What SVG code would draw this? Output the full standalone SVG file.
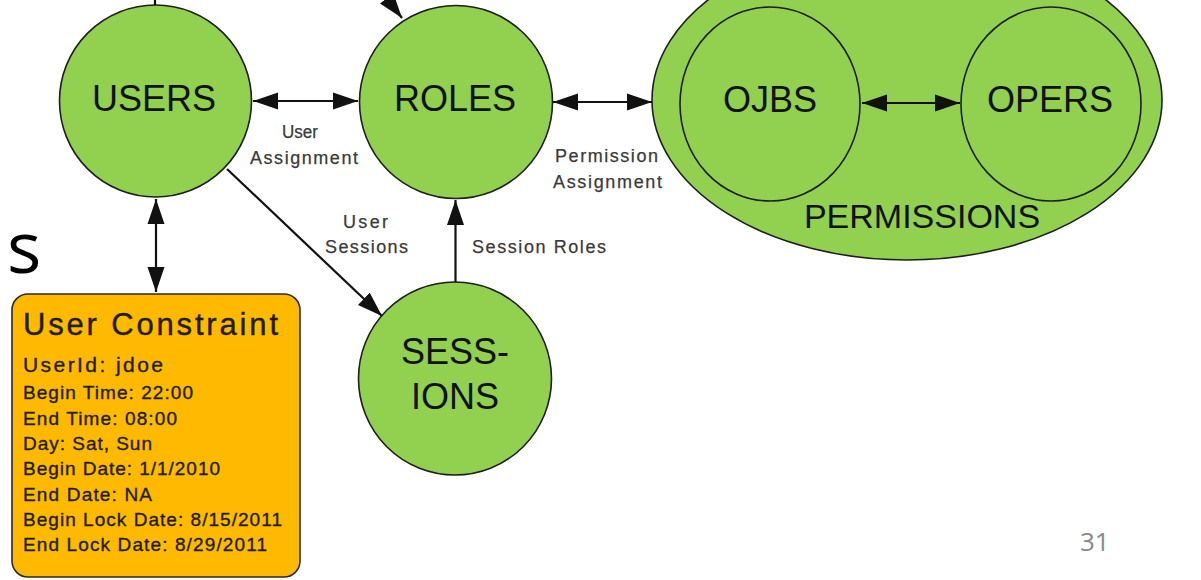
<svg xmlns="http://www.w3.org/2000/svg" width="1201" height="580" viewBox="0 0 1201 580">
<style>
.node{fill:#92D050;stroke:#1e1e1e;stroke-width:1.6}
.inner{fill:none;stroke:#1e1e1e;stroke-width:1.6}
.big{font-family:"Liberation Sans",Arial,sans-serif;font-size:36px;fill:#111;text-anchor:middle}
.lbl{font-family:"Liberation Sans",Arial,sans-serif;font-size:18px;fill:#3a3a3a;stroke:#3a3a3a;stroke-width:0.25}
.box{fill:#FFBA00;stroke:#2a2a2a;stroke-width:1.6}
.bt{font-family:"Liberation Sans",Arial,sans-serif;font-size:19px;fill:#221c00;stroke:#221c00;stroke-width:0.35}
.conn{stroke:#111;stroke-width:2.2;fill:none}
</style>
<defs>
<marker id="ah" markerUnits="userSpaceOnUse" markerWidth="25" markerHeight="18" refX="25" refY="9" orient="auto-start-reverse">
<path d="M0,0.5 L25,9 L0,17.5 z" fill="#111"/>
</marker>
</defs>

<text x="7" y="273" font-family="'Open Sans','Noto Sans',sans-serif" font-size="72" fill="#000">s</text>

<g id="permissions">
<ellipse class="node" cx="907" cy="100" rx="255" ry="160"/>
<text class="big" x="922" y="228" style="font-size:34px">PERMISSIONS</text>
</g>
<g id="ojbs">
<ellipse class="inner" cx="770" cy="104" rx="90" ry="97"/>
<text class="big" x="770" y="112">OJBS</text>
</g>
<g id="opers">
<ellipse class="inner" cx="1051" cy="104" rx="90" ry="97"/>
<text class="big" x="1050" y="112">OPERS</text>
</g>

<g id="users">
<circle class="node" cx="155.5" cy="101" r="96"/>
<text class="big" x="154" y="111">USERS</text>
</g>
<g id="roles">
<circle class="node" cx="456" cy="102" r="96.5"/>
<text class="big" x="455" y="111">ROLES</text>
</g>
<g id="sessions">
<circle class="node" cx="455" cy="378.5" r="96.5"/>
<text class="big" x="455" y="364">SESS-</text>
<text class="big" x="455" y="409">IONS</text>
</g>

<g id="user-constraint">
<rect class="box" x="12" y="294" width="288" height="283" rx="16"/>
<text class="bt" x="23" y="335" style="font-size:31px;stroke-width:0.4" textLength="255" lengthAdjust="spacing">User Constraint</text>
<text class="bt" x="23" y="372" style="font-size:21px" textLength="140" lengthAdjust="spacing">UserId: jdoe</text>
<text class="bt" x="23" y="399" textLength="170" lengthAdjust="spacing">Begin Time: 22:00</text>
<text class="bt" x="23" y="425" textLength="154" lengthAdjust="spacing">End Time: 08:00</text>
<text class="bt" x="23" y="450" textLength="129" lengthAdjust="spacing">Day: Sat, Sun</text>
<text class="bt" x="23" y="475" textLength="197" lengthAdjust="spacing">Begin Date: 1/1/2010</text>
<text class="bt" x="23" y="501" textLength="129" lengthAdjust="spacing">End Date: NA</text>
<text class="bt" x="23" y="526" textLength="259" lengthAdjust="spacing">Begin Lock Date: 8/15/2011</text>
<text class="bt" x="23" y="551" textLength="244" lengthAdjust="spacing">End Lock Date: 8/29/2011</text>
</g>

<g id="connectors">
<line class="conn" x1="155" y1="0" x2="155" y2="5"/>
<line class="conn" x1="377" y1="-14" x2="402" y2="18" marker-end="url(#ah)"/>
<line class="conn" x1="253" y1="101" x2="358" y2="101" marker-start="url(#ah)" marker-end="url(#ah)"/>
<line class="conn" x1="553" y1="102" x2="652" y2="102" marker-start="url(#ah)" marker-end="url(#ah)"/>
<line class="conn" x1="862" y1="103" x2="960" y2="103" marker-start="url(#ah)" marker-end="url(#ah)"/>
<line class="conn" x1="156" y1="199" x2="156" y2="292" marker-start="url(#ah)" marker-end="url(#ah)"/>
<line class="conn" x1="227" y1="169" x2="382" y2="316" marker-end="url(#ah)"/>
<line class="conn" x1="455.5" y1="282" x2="455.5" y2="200" marker-end="url(#ah)"/>
<text class="lbl" x="282" y="138" textLength="36" lengthAdjust="spacingAndGlyphs">User</text>
<text class="lbl" x="250" y="164" textLength="108" lengthAdjust="spacing">Assignment</text>
<text class="lbl" x="555" y="162" textLength="103" lengthAdjust="spacing">Permission</text>
<text class="lbl" x="553" y="188" textLength="109" lengthAdjust="spacing">Assignment</text>
<text class="lbl" x="343" y="228" textLength="45" lengthAdjust="spacing">User</text>
<text class="lbl" x="325" y="253" textLength="83" lengthAdjust="spacing">Sessions</text>
<text class="lbl" x="472" y="253" textLength="134" lengthAdjust="spacing">Session Roles</text>
</g>

<text x="1080" y="551" font-family="'Open Sans','Noto Sans',sans-serif" font-size="26" fill="#898989">31</text>
</svg>
